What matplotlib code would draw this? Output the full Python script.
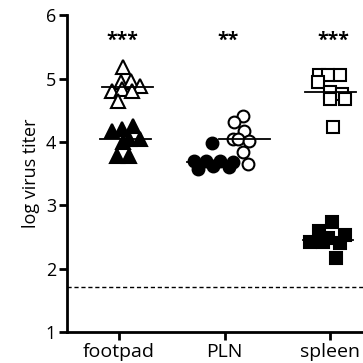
import matplotlib
matplotlib.use("Agg")
import matplotlib.pyplot as plt
import numpy as np

plt.rcParams['font.family'] = ['Open Sans', 'DejaVu Sans']

categories = ['footpad', 'PLN', 'spleen']
stars = ['***', '**', '***']
detection_limit = 1.71

# footpad (triangles)
fp_open_y = [5.19, 4.95, 4.97, 4.89, 4.81, 4.84, 4.81, 4.65]
fp_open_dx = [0.04, 0.02, 0.11, 0.20, -0.07, 0.03, 0.12, -0.01]
fp_filled_y = [4.17, 4.20, 4.25, 4.05, 4.00, 4.05, 3.78, 3.78]
fp_filled_dx = [-0.07, 0.03, 0.13, 0.20, 0.04, 0.10, -0.02, 0.10]

# PLN (circles)
pln_filled_y = [3.98, 3.70, 3.58, 3.70, 3.62, 3.70, 3.60, 3.68]
pln_filled_dx = [-0.12, -0.29, -0.25, -0.18, -0.11, -0.04, 0.04, 0.08]
pln_open_y = [4.41, 4.32, 4.17, 4.05, 4.05, 4.02, 3.84, 3.65]
pln_open_dx = [0.17, 0.09, 0.18, 0.08, 0.13, 0.23, 0.17, 0.22]

# spleen (squares)
sp_open_y = [5.05, 5.05, 5.06, 4.95, 4.79, 4.75, 4.68, 4.68, 4.24]
sp_open_dx = [-0.11, -0.02, 0.09, -0.12, 0.0, 0.11, 0.0, 0.14, 0.03]
sp_filled_y = [2.73, 2.59, 2.54, 2.43, 2.43, 2.41, 2.17, 2.48]
sp_filled_dx = [0.02, -0.11, 0.14, -0.19, -0.07, 0.09, 0.05, -0.02]

fig = plt.figure(figsize=(3.63, 3.63), dpi=100)
ax = fig.add_axes([0.185, 0.085, 0.815, 0.873])

groups = [
    (0, fp_open_dx, fp_open_y, '^', 'white', 0.08),
    (0, fp_filled_dx, fp_filled_y, '^', 'black', 0.06),
    (1, pln_filled_dx, pln_filled_y, 'o', 'black', -0.12),
    (1, pln_open_dx, pln_open_y, 'o', 'white', 0.19),
    (2, sp_open_dx, sp_open_y, 's', 'white', 0.0),
    (2, sp_filled_dx, sp_filled_y, 's', 'black', -0.02),
]
sizes = {'^': 10, 'o': 8.5, 's': 9}
for pos, dx, ys, mk, fc, c in groups:
    xs = pos + np.array(dx)
    ax.plot(xs, ys, linestyle='none', marker=mk, markersize=sizes[mk],
            markerfacecolor=fc, markeredgecolor='black', markeredgewidth=1.5)
    med = np.median(ys)
    ax.plot([pos + c - 0.24, pos + c + 0.24], [med, med], color='black', lw=1.3)

for i, s in enumerate(stars):
    ax.text(i + 0.03, 5.6, s, ha='center', va='center', fontsize=14, fontweight='bold')

ax.axhline(detection_limit, color='black', lw=1, linestyle=(0, (3, 2)))

ax.set_xlim(-0.49, 2.31)
ax.set_ylim(1, 6)
ax.set_xticks(range(3))
ax.set_xticklabels(categories, fontsize=14)
ax.set_yticks([1, 2, 3, 4, 5, 6])
ax.tick_params(axis='y', labelsize=13, width=2, length=6, pad=2)
ax.tick_params(axis='x', width=2, length=6, pad=2)
ax.set_ylabel('log virus titer', fontsize=13)
ax.spines['top'].set_visible(False)
ax.spines['right'].set_visible(False)
ax.spines['left'].set_linewidth(2)
ax.spines['bottom'].set_linewidth(2)

fig.savefig('out.png', dpi=100)
